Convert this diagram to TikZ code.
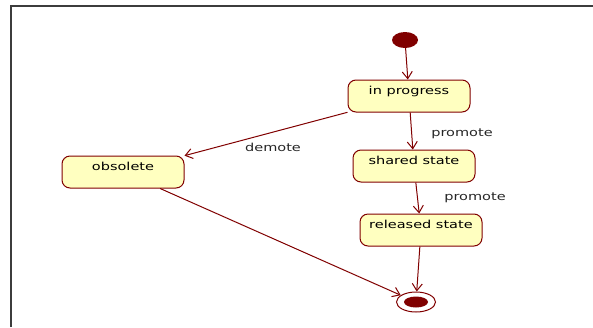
\documentclass[tikz,border=0pt]{standalone}
\usepackage{fontspec}
\setmainfont[FakeStretch=1.32]{DejaVu Sans}
\usetikzlibrary{arrows.meta, positioning, shapes.geometric}
\definecolor{statered}{RGB}{128,0,0}
\definecolor{statefill}{RGB}{255,255,192}
\definecolor{framegray}{RGB}{60,60,60}

\begin{document}
\begin{tikzpicture}[x=1pt, y=-1pt, font=\fontsize{11}{13}\selectfont,
    state/.style={draw=statered, line width=1pt, fill=statefill, rounded corners=8pt, minimum width=122pt, inner sep=4pt, text height=10pt, text depth=14pt},
    trans/.style={draw=statered, line width=1pt, -{Straight Barb[length=7pt, width=10pt]}},
    lbl/.style={text=black!85, anchor=base, inner sep=0pt}]
        \useasboundingbox (0,0) rectangle (593,327);
        \draw[framegray, line width=1.5pt] (11,327) -- (11,6) -- (593,6);

        % states
        \node[ellipse, fill=statered, minimum width=26pt, minimum height=16pt, inner sep=0pt] (init) at (405,40) {};
        \node[state] (prog) at (409,96) {in progress};
        \node[state] (shared) at (414,166) {shared state};
        \node[state] (released) at (421,230) {released state};
        \node[state] (obs) at (123,172) {obsolete};
        \node[ellipse, draw=statered, line width=1pt, fill=white, minimum width=39pt, minimum height=20pt, inner sep=0pt] (fin) at (416,302) {};
        \node[ellipse, fill=statered, minimum width=24pt, minimum height=11pt, inner sep=0pt] (fincore) at (fin.center) {};

        % transitions
        \draw[trans] (init) -- (prog);
        \draw[trans] (prog) -- (shared);
        \draw[trans] (prog) -- (obs);
        \draw[trans] (shared) -- (released);
        \draw[trans] (released) -- (fin);
        \draw[trans] (obs) -- (fin);

        \node[lbl] (promoteA) at (462,136) {promote};
        \node[lbl] (demote) at (273,151) {demote};
        \node[lbl] (promoteB) at (475,200) {promote};
    \end{tikzpicture}
\end{document}
